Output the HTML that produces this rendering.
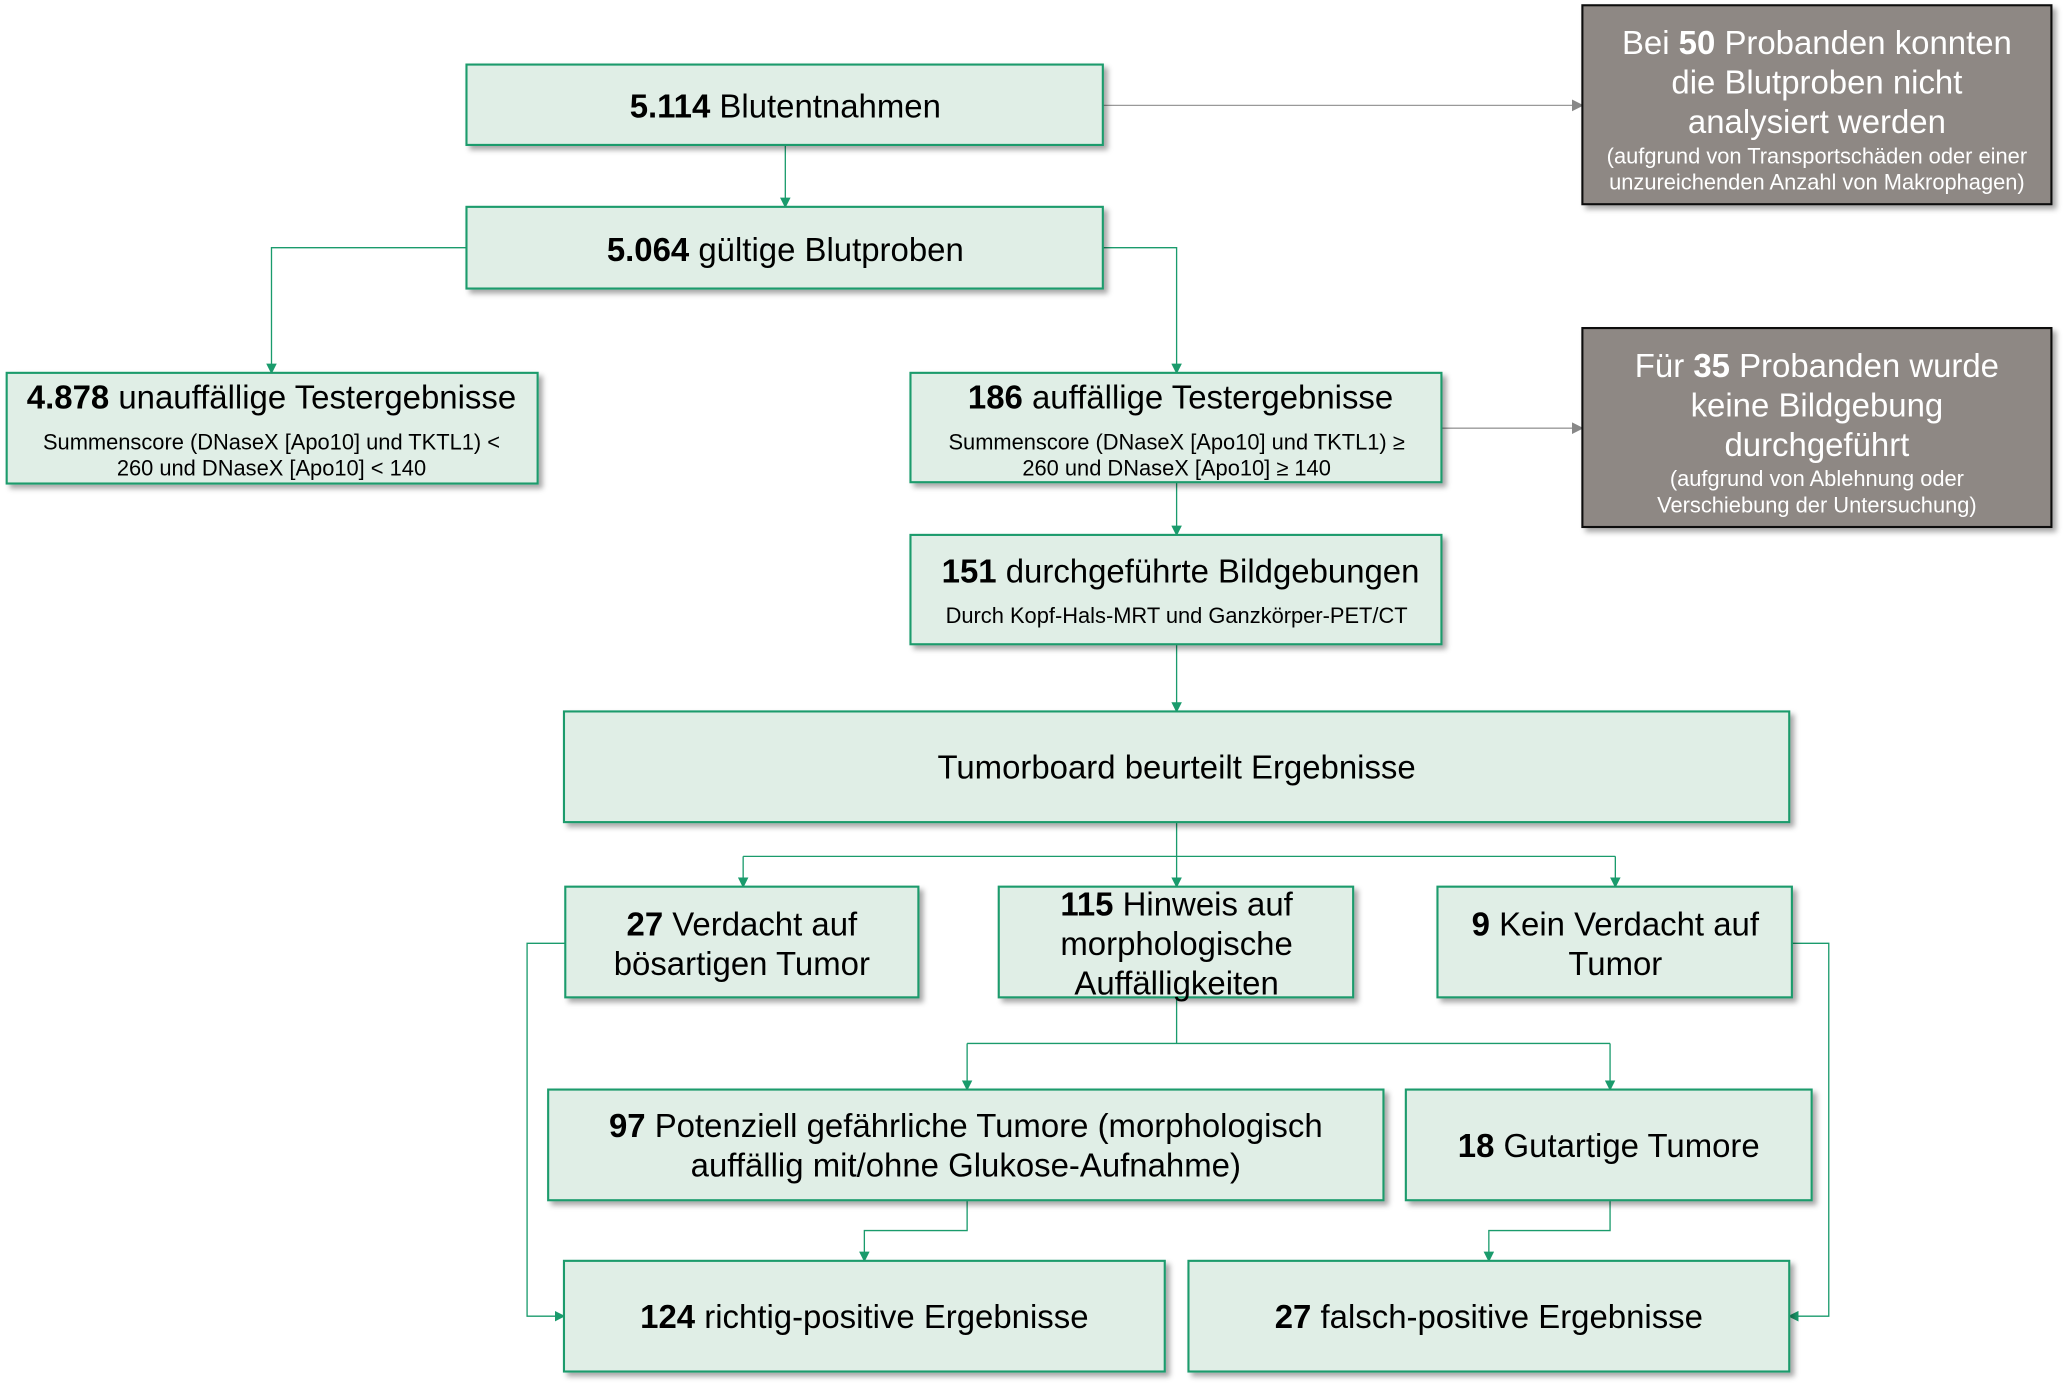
<!DOCTYPE html>
<html><head><meta charset="utf-8"><style>
html,body{margin:0;padding:0;background:#fff;}
svg{display:block;}
text{font-family:"Liberation Sans",Arial,sans-serif;fill:#000;}
.b{fill:#e0eee6;stroke:#1a9b6c;stroke-width:1.6;filter:url(#sh);}
.g{fill:#8e8884;stroke:#111;stroke-width:1.6;filter:url(#sh);}
.l{fill:none;stroke:#1a9b6c;stroke-width:1;}
.lg{fill:none;stroke:#999;stroke-width:1;}
.t{font-size:25px;text-anchor:middle;}
.s{font-size:16.6px;text-anchor:middle;}
.w{fill:#fff;}
</style></head><body>
<svg width="2066" height="1386" viewBox="0 0 1568 1052" xmlns="http://www.w3.org/2000/svg">
<defs>
<filter id="sh" x="-5%" y="-5%" width="115%" height="130%"><feDropShadow dx="3" dy="3" stdDeviation="2" flood-color="#000" flood-opacity="0.35"/></filter>
<marker id="ag" markerWidth="8" markerHeight="8" refX="7" refY="4" orient="auto" markerUnits="userSpaceOnUse"><path d="M0,0 L8,4 L0,8z" fill="#1a9b6c"/></marker>
<marker id="ay" markerWidth="9" markerHeight="9" refX="8" refY="4.5" orient="auto" markerUnits="userSpaceOnUse"><path d="M0,0 L9,4.5 L0,9z" fill="#888"/></marker>
</defs>

<path class="l" marker-end="url(#ag)" d="M596,110 V157"/>
<path class="lg" marker-end="url(#ay)" d="M837,80 H1201"/>
<path class="l" marker-end="url(#ag)" d="M354,188 H206 V283"/>
<path class="l" marker-end="url(#ag)" d="M837,188 H893 V283"/>
<path class="lg" marker-end="url(#ay)" d="M1094,325 H1201"/>
<path class="l" marker-end="url(#ag)" d="M893,366 V406"/>
<path class="l" marker-end="url(#ag)" d="M893,489 V540"/>
<path class="l" d="M893,624 V650 M564,650 H1226"/>
<path class="l" marker-end="url(#ag)" d="M564,650 V673"/>
<path class="l" marker-end="url(#ag)" d="M893,650 V673"/>
<path class="l" marker-end="url(#ag)" d="M1226,650 V673"/>
<path class="l" d="M893,757 V792 M734,792 H1222"/>
<path class="l" marker-end="url(#ag)" d="M734,792 V827"/>
<path class="l" marker-end="url(#ag)" d="M1222,792 V827"/>
<path class="l" marker-end="url(#ag)" d="M734,911 V934 H656 V957"/>
<path class="l" marker-end="url(#ag)" d="M1222,911 V934 H1130 V957"/>
<path class="l" marker-end="url(#ag)" d="M429,716 H400 V999 H428"/>
<path class="l" marker-end="url(#ag)" d="M1360,716 H1388 V999 H1358"/>

<rect class="b" x="354" y="49" width="483" height="61"/>
<text class="t" x="596" y="89"><tspan font-weight="bold">5.114</tspan> Blutentnahmen</text>

<rect class="b" x="354" y="157" width="483" height="62"/>
<text class="t" x="596" y="198"><tspan font-weight="bold">5.064</tspan> gültige Blutproben</text>

<rect class="b" x="5" y="283" width="403" height="84"/>
<text class="t" x="206" y="310"><tspan font-weight="bold">4.878</tspan> unauffällige Testergebnisse</text>
<text class="s" x="206" y="341">Summenscore (DNaseX [Apo10] und TKTL1) &lt;</text>
<text class="s" x="206" y="361">260 und DNaseX [Apo10] &lt; 140</text>

<rect class="b" x="691" y="283" width="403" height="83"/>
<text class="t" x="896" y="310"><tspan font-weight="bold">186</tspan> auffällige Testergebnisse</text>
<text class="s" x="893" y="341">Summenscore (DNaseX [Apo10] und TKTL1) ≥</text>
<text class="s" x="893" y="361">260 und DNaseX [Apo10] ≥ 140</text>

<rect class="b" x="691" y="406" width="403" height="83"/>
<text class="t" x="896" y="442"><tspan font-weight="bold">151</tspan> durchgeführte Bildgebungen</text>
<text class="s" x="893" y="473">Durch Kopf-Hals-MRT und Ganzkörper-PET/CT</text>

<rect class="b" x="428" y="540" width="930" height="84"/>
<text class="t" x="893" y="591">Tumorboard beurteilt Ergebnisse</text>

<rect class="b" x="429" y="673" width="268" height="84"/>
<text class="t" x="563" y="710"><tspan font-weight="bold">27</tspan> Verdacht auf</text>
<text class="t" x="563" y="740">bösartigen Tumor</text>

<rect class="b" x="758" y="673" width="269" height="84"/>
<text class="t" x="893" y="695"><tspan font-weight="bold">115</tspan> Hinweis auf</text>
<text class="t" x="893" y="725">morphologische</text>
<text class="t" x="893" y="755">Auffälligkeiten</text>

<rect class="b" x="1091" y="673" width="269" height="84"/>
<text class="t" x="1226" y="710"><tspan font-weight="bold">9</tspan> Kein Verdacht auf</text>
<text class="t" x="1226" y="740">Tumor</text>

<rect class="b" x="416" y="827" width="634" height="84"/>
<text class="t" x="733" y="863"><tspan font-weight="bold">97</tspan> Potenziell gefährliche Tumore (morphologisch</text>
<text class="t" x="733" y="893">auffällig mit/ohne Glukose-Aufnahme)</text>

<rect class="b" x="1067" y="827" width="308" height="84"/>
<text class="t" x="1221" y="878"><tspan font-weight="bold">18</tspan> Gutartige Tumore</text>

<rect class="b" x="428" y="957" width="456" height="84"/>
<text class="t" x="656" y="1008"><tspan font-weight="bold">124</tspan> richtig-positive Ergebnisse</text>

<rect class="b" x="902" y="957" width="456" height="84"/>
<text class="t" x="1130" y="1008"><tspan font-weight="bold">27</tspan> falsch-positive Ergebnisse</text>

<rect class="g" x="1201" y="4" width="356" height="151"/>
<text class="t w" x="1379" y="41">Bei <tspan font-weight="bold">50</tspan> Probanden konnten</text>
<text class="t w" x="1379" y="71">die Blutproben nicht</text>
<text class="t w" x="1379" y="101">analysiert werden</text>
<text class="s w" x="1379" y="124">(aufgrund von Transportschäden oder einer</text>
<text class="s w" x="1379" y="144">unzureichenden Anzahl von Makrophagen)</text>

<rect class="g" x="1201" y="249" width="356" height="151"/>
<text class="t w" x="1379" y="286">Für <tspan font-weight="bold">35</tspan> Probanden wurde</text>
<text class="t w" x="1379" y="316">keine Bildgebung</text>
<text class="t w" x="1379" y="346">durchgeführt</text>
<text class="s w" x="1379" y="369">(aufgrund von Ablehnung oder</text>
<text class="s w" x="1379" y="389">Verschiebung der Untersuchung)</text>
</svg>
</body></html>
